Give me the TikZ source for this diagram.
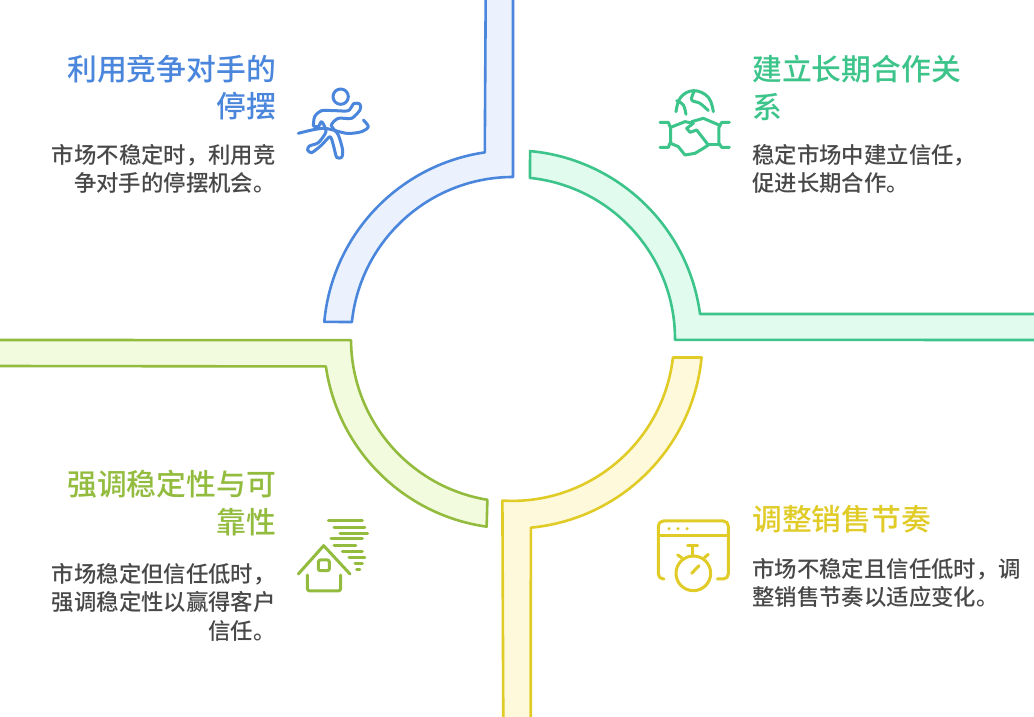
\documentclass[tikz,border=0pt]{standalone}
\usepackage{fontspec}
\usepackage{xcolor}
\setmainfont{Noto Sans CJK SC Medium}
\definecolor{runblue}{HTML}{4A86DC}
\definecolor{runfill}{HTML}{EBF2FE}
\definecolor{dealgreen}{HTML}{3CC48A}
\definecolor{dealfill}{HTML}{E1FBEF}
\definecolor{clockyellow}{HTML}{E0CB27}
\definecolor{clockfill}{HTML}{FFF9DB}
\definecolor{houselime}{HTML}{93BC3F}
\definecolor{housefill}{HTML}{F2FBDD}
\definecolor{bodygray}{HTML}{484848}

\begin{document}
\begin{tikzpicture}[x=1pt,y=1pt,
    band/.style={line width=2.6pt,line join=round},
    glyph/.style={line width=3pt,line cap=round,line join=round,x=0.3333pt,y=-0.3333pt},
    headtext/.style={font=\fontsize{29.8}{37.5}\selectfont,inner sep=0pt},
    bodytext/.style={font=\fontsize{22.4}{28.6}\selectfont,text=bodygray,inner sep=0pt}]
  \clip (0,0) rectangle (1034,716);
  \fill[white] (0,0) rectangle (1034,716);
  \coordinate (mid) at (513,377);

  \draw[band,shift={(mid)},draw=runblue,fill=runfill] (90:162) arc[start angle=90,end angle=174,radius=162] -- (174.8:189.5) arc[start angle=174.8,end angle=98.3,radius=188.5] -- (-27.3,345) -- (0,345) -- cycle;
  \draw[band,shift={(mid)},draw=dealgreen,fill=dealfill] (84:162) arc[start angle=84,end angle=-0.3,radius=162] -- (530,-1) -- (530,25) -- (7.6:188.7) arc[start angle=7.6,end angle=84.8,radius=188.7] -- cycle;
  \draw[band,shift={(mid)},draw=clockyellow,fill=clockfill] (-6.6:161) arc[start angle=-6.6,end angle=-93.4,radius=162] -- (-9.7,-385) -- (17.7,-385) -- (-84.6:189.5) arc[start angle=-84.6,end angle=-5.6,radius=189.5] -- cycle;
  \draw[band,shift={(mid)},draw=houselime,fill=housefill] (-520,-1) -- (180.4:162) arc[start angle=180.4,end angle=260.6,radius=163] -- (262:189.5) arc[start angle=262,end angle=188.2,radius=189] -- (-520,-27) -- cycle;

  \node[headtext,text=runblue,anchor=north east,align=right] (runhead) at (276,661) {利用竞争对手的\\停摆};
  \node[bodytext,anchor=north east,align=right] (runbody) at (276,572) {市场不稳定时，利用竞\\争对手的停摆机会。};
  \node[headtext,text=dealgreen,anchor=north west,align=left] (dealhead) at (752,661) {建立长期合作关\\系};
  \node[bodytext,anchor=north west,align=left] (dealbody) at (752,572) {稳定市场中建立信任，\\促进长期合作。};
  \node[headtext,text=houselime,anchor=north east,align=right] (househead) at (276,246) {强调稳定性与可\\靠性};
  \node[bodytext,anchor=north east,align=right] (housebody) at (276,153) {市场稳定但信任低时，\\强调稳定性以赢得客户\\信任。};
  \node[headtext,text=clockyellow,anchor=north west,align=left] (clockhead) at (752,211) {调整销售节奏};
  \node[bodytext,anchor=north west,align=left] (clockbody) at (752,158) {市场不稳定且信任低时，调\\整销售节奏以适应变化。};

  % runner
  \begin{scope}[shift={(280,646)},glyph,draw=runblue]
    \draw (182,80) circle[radius=23];
    \draw plot[smooth,tension=0.45] coordinates {(100,168) (104,140) (125,122) (165,122) (205,122) (222,100) (240,103) (240,120) (215,145) (175,145) (154,166) (175,195) (188,240) (185,262) (170,262) (160,225) (150,200) (125,225) (95,248) (83,240) (88,228) (115,218) (138,185) (125,155) (115,170) (100,168)};
    \draw plot[smooth,tension=0.5] coordinates {(55,190) (130,175) (200,190) (245,185) (265,170) (250,150)};
  \end{scope}

  % handshake
  \begin{scope}[shift={(640,646)},glyph,draw=dealgreen]
    \draw plot[smooth,tension=0.7] coordinates {(108,125) (122,82) (162,62) (205,82) (220,125)};
    \draw plot[smooth,tension=0.6] coordinates {(110,92) (130,105) (138,133)};
    \draw plot[smooth,tension=0.6] coordinates {(162,65) (155,90) (180,100) (205,122)};
    \draw (60,157) -- (85,157) -- (92,175) -- (92,215) -- (85,232) -- (60,232);
    \draw (268,157) -- (245,157) -- (237,172) -- (237,220) -- (245,232) -- (268,232);
    \draw (92,172) -- (135,155) -- (160,160);
    \draw (155,155) -- (190,145) -- (237,165);
    \draw (237,225) -- (205,225);
    \draw (92,220) -- (115,230) -- (135,255) -- (165,250) -- (190,235) -- (205,225) -- (170,180) -- (150,187) -- (140,175) -- (160,160);
  \end{scope}

  % house and wind
  \begin{scope}[shift={(285,211)},glyph,draw=houselime]
    \foreach \lx/\rx/\ly in {130/232/48,147/240/67,165/248/85,138/232/102,147/213/121,172/232/139,192/240/157,210/232/175,215/225/193}
      \draw (\lx,\ly) -- (\rx,\ly);
    \draw (40,207) -- (116,122) -- (195,207);
    \draw[rounded corners=2.5pt] (67,210) -- (67,258) -- (167,258) -- (167,210);
    \draw[rounded corners=2pt] (100,165) rectangle (133,197);
  \end{scope}

  % stopwatch
  \begin{scope}[shift={(640,211)},glyph,draw=clockyellow]
    \draw[rounded corners=5pt] (72,222) -- (55,222) -- (55,48) -- (265,48) -- (265,222) -- (232,222);
    \draw (55,93) -- (265,93);
    \foreach \dotx in {87,114,141}
      \fill[clockyellow] (\dotx,71) circle[radius=5];
    \draw (160,205) circle[radius=52];
    \draw (158,153) -- (158,122) (143,122) -- (173,122);
    \draw (113,150) -- (125,158) (205,148) -- (193,158);
    \draw (155,205) -- (177,182);
  \end{scope}
\end{tikzpicture}
\end{document}
